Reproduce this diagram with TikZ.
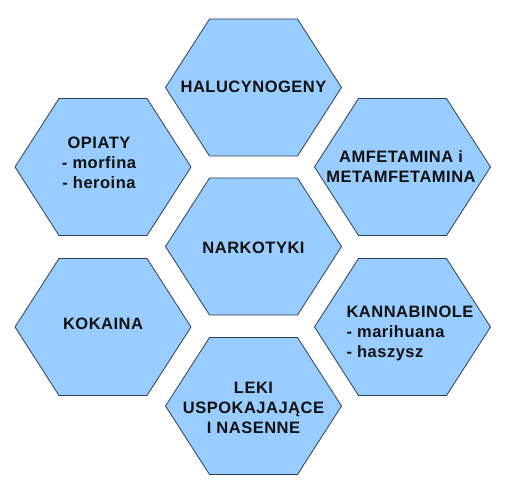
\documentclass[tikz,border=0pt]{standalone}
\usepackage{fontspec}
\setmainfont{Liberation Sans}
\newfontfamily\hexfont{Liberation Sans}[LetterSpace=3]
\definecolor{hexfill}{HTML}{99CCFF}
\definecolor{hexline}{HTML}{2E3F55}
\definecolor{hexink}{HTML}{111111}
\begin{document}
\begin{tikzpicture}[x=1pt,y=-1pt,
    hexa/.style={draw=hexline,fill=hexfill,line width=0.8pt,line join=miter},
    hextext/.style={font=\hexfont\bfseries\fontsize{16.5}{20}\selectfont,text=hexink,align=center,inner sep=0pt}]
  \useasboundingbox (0,0) rectangle (513,494);
  % plaster miodu: siedem szesciokatow
  \foreach \cx/\cy in {253.5/87.5, 103/167, 402.5/167, 253.5/246.5, 103/327, 402.5/327, 253.5/406}
    \draw[hexa] (\cx-88,\cy) -- (\cx-44,\cy-68.5) -- (\cx+44,\cy-68.5) -- (\cx+88,\cy)
      -- (\cx+44,\cy+68.5) -- (\cx-44,\cy+68.5) -- cycle;
  \node[hextext] (halu) at (253.5,87) {HALUCYNOGENY};
  \node[hextext] (opiaty) at (99,163) {OPIATY\\- morfina\\- heroina};
  \node[hextext] (amfe) at (401,167) {AMFETAMINA i\\METAMFETAMINA};
  \node[hextext] (narko) at (253.5,248) {NARKOTYKI};
  \node[hextext] (koka) at (103,324) {KOKAINA};
  \node[hextext,align=left] (kanna) at (410,333) {KANNABINOLE\\- marihuana\\- haszysz};
  \node[hextext] (leki) at (253.5,408) {LEKI\\USPOKAJAJĄCE\\I NASENNE};
\end{tikzpicture}
\end{document}
